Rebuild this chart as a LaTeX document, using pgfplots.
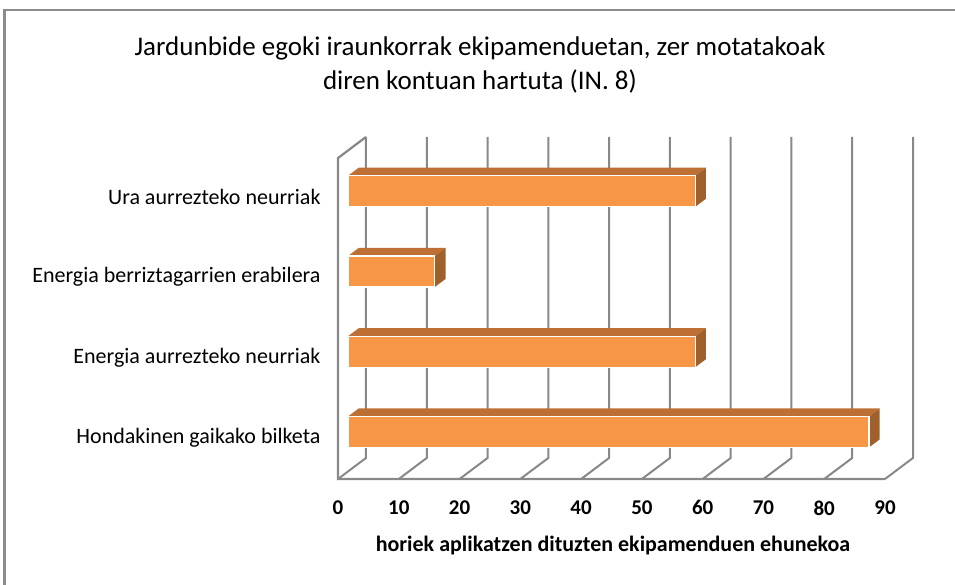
\documentclass[border=0pt]{standalone}
\usepackage{pgfplots}
\pgfplotsset{compat=1.18}
\usepackage{fontspec}
\setmainfont{Carlito}
\definecolor{barfront}{HTML}{F79646}
\definecolor{bartop}{HTML}{BE6F33}
\definecolor{barside}{HTML}{A0602B}
\definecolor{wallgray}{HTML}{888888}
\definecolor{framegray}{HTML}{8C8C8C}

\begin{document}
\begin{tikzpicture}[x=1pt,y=1pt]
\useasboundingbox (0,0) rectangle (955,585);
\fill[white] (0,0) rectangle (955,585);
\draw[line width=2.2pt, framegray] (4.5,-10) -- (4.5,575) -- (960,575);
\node[align=center, font=\fontsize{27}{34}\selectfont] at (480,520)
  {Jardunbide egoki iraunkorrak ekipamenduetan, zer motatakoak\\diren kontuan hartuta (IN. 8)};
\node[font=\fontsize{22}{24}\selectfont\bfseries] at (613,39)
  {horiek aplikatzen dituzten ekipamenduen ehunekoa};
\begin{axis}[
  at={(338pt,106pt)}, anchor=south west,
  scale only axis, width=575pt, height=342pt,
  xmin=-1.645, xmax=92.96, ymin=-0.586, ymax=3.676,
  clip=false,
  axis line style={draw=none},
  tick style={draw=none},
  xtick={-1.645,8.355,18.355,28.355,38.355,48.355,58.355,68.355,78.355,88.355},
  xticklabels={0,10,20,30,40,50,60,70,80,90},
  xticklabel style={font=\fontsize{21}{24}\selectfont\bfseries, yshift=-18pt},
  ytick={-0.07,0.93,1.93,2.93},
  yticklabels={Hondakinen gaikako bilketa, Energia aurrezteko neurriak, Energia berriztagarrien erabilera, Ura aurrezteko neurriak},
  yticklabel style={font=\fontsize{22}{24}\selectfont, xshift=-14pt},
  /pgf/number format/assume math mode=true,
]
% back wall grid lines with floor diagonals
\addplot[wallgray, line width=2pt, mark=none] coordinates {(-1.645,-0.586) (2.96,-0.324) (2.96,3.676)};
\addplot[wallgray, line width=2pt, mark=none] coordinates {(8.355,-0.586) (12.96,-0.324) (12.96,3.676)};
\addplot[wallgray, line width=2pt, mark=none] coordinates {(18.355,-0.586) (22.96,-0.324) (22.96,3.676)};
\addplot[wallgray, line width=2pt, mark=none] coordinates {(28.355,-0.586) (32.96,-0.324) (32.96,3.676)};
\addplot[wallgray, line width=2pt, mark=none] coordinates {(38.355,-0.586) (42.96,-0.324) (42.96,3.676)};
\addplot[wallgray, line width=2pt, mark=none] coordinates {(48.355,-0.586) (52.96,-0.324) (52.96,3.676)};
\addplot[wallgray, line width=2pt, mark=none] coordinates {(58.355,-0.586) (62.96,-0.324) (62.96,3.676)};
\addplot[wallgray, line width=2pt, mark=none] coordinates {(68.355,-0.586) (72.96,-0.324) (72.96,3.676)};
\addplot[wallgray, line width=2pt, mark=none] coordinates {(78.355,-0.586) (82.96,-0.324) (82.96,3.676)};
\addplot[wallgray, line width=2pt, mark=none] coordinates {(88.355,-0.586) (92.96,-0.324) (92.96,3.676)};
% front floor edge and left wall
\addplot[wallgray, line width=2.2pt, mark=none] coordinates {(88.355,-0.586) (-1.645,-0.586) (-1.645,3.414) (2.96,3.676)};
% bar top faces
\addplot[fill=bartop, draw=none, mark=none] coordinates {(0,0.193) (85.71,0.193) (87.47,0.293) (1.76,0.293)};
\addplot[fill=bartop, draw=none, mark=none] coordinates {(0,1.193) (57.14,1.193) (58.90,1.293) (1.76,1.293)};
\addplot[fill=bartop, draw=none, mark=none] coordinates {(0,2.193) (14.29,2.193) (16.05,2.293) (1.76,2.293)};
\addplot[fill=bartop, draw=none, mark=none] coordinates {(0,3.193) (57.14,3.193) (58.90,3.293) (1.76,3.293)};
% bar side faces
\addplot[fill=barside, draw=none, mark=none] coordinates {(85.71,-0.193) (85.71,0.193) (87.47,0.293) (87.47,-0.093)};
\addplot[fill=barside, draw=none, mark=none] coordinates {(57.14,0.807) (57.14,1.193) (58.90,1.293) (58.90,0.907)};
\addplot[fill=barside, draw=none, mark=none] coordinates {(14.29,1.807) (14.29,2.193) (16.05,2.293) (16.05,1.907)};
\addplot[fill=barside, draw=none, mark=none] coordinates {(57.14,2.807) (57.14,3.193) (58.90,3.293) (58.90,2.907)};
% bar front faces
\addplot[xbar, bar shift=0pt, bar width=31pt, fill=barfront, draw=white, line width=1.2pt]
  coordinates {(85.71,0) (57.14,1) (14.29,2) (57.14,3)};
\end{axis}
\end{tikzpicture}
\end{document}
